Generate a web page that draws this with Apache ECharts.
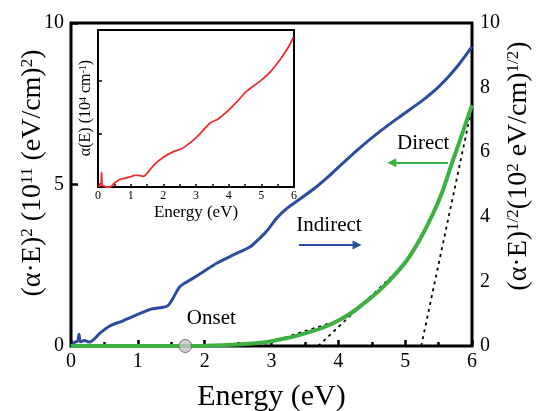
<!DOCTYPE html>
<html>
<head>
<meta charset="utf-8">
<script src="https://cdn.jsdelivr.net/npm/echarts@6/dist/echarts.min.js"></script>
<style>
  html, body { margin: 0; padding: 0; background: #fff; }
  #chart { width: 536px; height: 411px; }
</style>
</head>
<body>
<div id="chart"></div>
<script>
// Absorption analysis: (α·E)^2 and (α·E)^1/2 versus photon energy, inset α(E)

// (α·E)^2 in 10^11 (eV/cm)^2 — left axis
const alphaESquared = [
  [0, 0], [0.06, 0.12], [0.1, 0.15], [0.12, 0.36], [0.14, 0.13], [0.2, 0.17],
  [0.28, 0.12], [0.35, 0.22], [0.43, 0.39], [0.58, 0.62], [0.78, 0.78],
  [0.98, 0.96], [1.18, 1.13], [1.38, 1.2], [1.45, 1.25], [1.51, 1.42],
  [1.63, 1.84], [1.78, 2.04], [1.98, 2.3], [2.18, 2.56], [2.43, 2.82],
  [2.68, 3.07], [2.83, 3.35], [2.93, 3.56], [3.08, 3.96], [3.23, 4.26],
  [3.43, 4.56], [3.63, 4.86], [3.88, 5.3], [4.22, 5.95], [4.57, 6.56],
  [4.92, 7.1], [5.27, 7.62], [5.52, 8.06], [5.77, 8.63], [6.0, 9.27]
];

// (α·E)^1/2 in (10^2 eV/cm)^1/2 — right axis
const alphaESqrt = [
  [0, 0], [0.5, 0], [1.0, 0], [1.5, 0], [1.7, 0], [2.0, 0.01], [2.3, 0.03],
  [2.6, 0.06], [2.83, 0.1], [3.0, 0.15], [3.2, 0.23], [3.4, 0.33], [3.6, 0.45],
  [3.83, 0.62], [4.03, 0.82], [4.22, 1.06], [4.42, 1.38], [4.62, 1.73],
  [4.82, 2.15], [5.02, 2.64], [5.22, 3.3], [5.42, 4.11], [5.56, 4.8],
  [5.7, 5.66], [5.85, 6.55], [6.0, 7.46]
];

// Linear fits (dotted) on the (α·E)^1/2 scale
const fitLow = [[2.8, 0], [3.9, 0.72]];
const fitIndirect = [[3.7, 0], [4.85, 2.25]];
const fitDirect = [[5.24, 0], [6.0, 7.4]];

// Onset point
const onset = [[1.71, 0]];

// Inset: α(E) in 10^4 cm^-1
const alphaInset = [
  [0.02, 0.0], [0.06, 0.06], [0.09, 0.04], [0.11, 0.27], [0.13, 0.03],
  [0.18, 0.02], [0.25, 0.0], [0.37, 0.0], [0.5, 0.07], [0.67, 0.14],
  [0.85, 0.17], [0.98, 0.19], [1.13, 0.22], [1.25, 0.22], [1.39, 0.2],
  [1.49, 0.25], [1.6, 0.33], [1.74, 0.43], [2.0, 0.56], [2.3, 0.66],
  [2.56, 0.72], [2.82, 0.83], [3.12, 1.0], [3.43, 1.2], [3.68, 1.28],
  [3.94, 1.41], [4.25, 1.6], [4.55, 1.8], [4.96, 1.99], [5.27, 2.16],
  [5.57, 2.39], [5.83, 2.63], [5.98, 2.81]
];

// Axis ranges
const energyRange = [0, 6];
const leftRange = [0, 10];
const rightRange = [0, 10];
const insetRange = [0, 2.95];

// Arrow annotations [start, end] in (E, (α·E)^1/2)
const indirectArrow = [[3.41, 3.13], [4.28, 3.13]];
const directArrow = [[5.64, 5.67], [4.80, 5.67]];

const SERIF = "Liberation Serif, Times New Roman, DejaVu Serif, serif";
const BLUE = '#2a4d9e';
const GREEN = '#3cb043';
const RED = '#ee2b2f';

const chart = echarts.init(document.getElementById('chart'));

const option = {
  backgroundColor: '#fff',
  animation: false,
  grid: [
    { left: 71, top: 23, width: 401, height: 323, show: true,
      borderColor: '#000', borderWidth: 3, backgroundColor: 'transparent' },
    { left: 98, top: 30, width: 196, height: 157, show: true,
      borderColor: '#000', borderWidth: 2, backgroundColor: '#fff' }
  ],
  xAxis: [
    { type: 'value', gridIndex: 0, min: energyRange[0], max: energyRange[1], interval: 1,
      axisLine: { show: false },
      axisTick: { show: true, inside: true, length: 6, lineStyle: { color: '#000', width: 2.5 } },
      minorTick: { show: true, splitNumber: 2, length: 4, lineStyle: { color: '#000', width: 2.5 } },
      splitLine: { show: false },
      axisLabel: { color: '#000', fontFamily: SERIF, fontSize: 20, margin: 6 } },
    { type: 'value', gridIndex: 1, min: energyRange[0], max: energyRange[1], interval: 1,
      axisLine: { show: false },
      axisTick: { show: true, inside: true, length: 3, lineStyle: { color: '#000', width: 1.5 } },
      minorTick: { show: true, splitNumber: 2, length: 3, lineStyle: { color: '#000', width: 1.5 } },
      splitLine: { show: false },
      axisLabel: { color: '#000', fontFamily: SERIF, fontSize: 12, margin: 3 } }
  ],
  yAxis: [
    { type: 'value', gridIndex: 0, min: leftRange[0], max: leftRange[1], interval: 5,
      axisLine: { show: false },
      axisTick: { show: true, inside: true, length: 7, lineStyle: { color: '#000', width: 2.5 } },
      splitLine: { show: false },
      axisLabel: { color: '#000', fontFamily: SERIF, fontSize: 20, margin: 7 } },
    { type: 'value', gridIndex: 0, position: 'right', min: rightRange[0], max: rightRange[1], interval: 2,
      axisLine: { show: false },
      axisTick: { show: false },
      splitLine: { show: false },
      axisLabel: { color: '#000', fontFamily: SERIF, fontSize: 20, margin: 8 } },
    { type: 'value', gridIndex: 1, min: insetRange[0], max: insetRange[1], interval: 1,
      axisLine: { show: false },
      axisTick: { show: true, inside: true, length: 4, lineStyle: { color: '#000', width: 1.5 } },
      splitLine: { show: false },
      axisLabel: { show: false } }
  ],
  series: [
    { name: 'alphaE2', type: 'line', xAxisIndex: 0, yAxisIndex: 0, data: alphaESquared,
      showSymbol: false, smooth: 0.25, lineStyle: { color: BLUE, width: 3 }, z: 3 },
    { name: 'fitLow', type: 'line', xAxisIndex: 0, yAxisIndex: 1, data: fitLow,
      showSymbol: false, lineStyle: { color: '#000', width: 1.8, type: [3, 4] }, z: 2 },
    { name: 'fitIndirect', type: 'line', xAxisIndex: 0, yAxisIndex: 1, data: fitIndirect,
      showSymbol: false, lineStyle: { color: '#000', width: 1.8, type: [3, 4] }, z: 2 },
    { name: 'fitDirect', type: 'line', xAxisIndex: 0, yAxisIndex: 1, data: fitDirect,
      showSymbol: false, lineStyle: { color: '#000', width: 1.8, type: [3, 4] }, z: 2 },
    { name: 'alphaESqrt', type: 'line', xAxisIndex: 0, yAxisIndex: 1, data: alphaESqrt,
      showSymbol: false, smooth: 0.3, lineStyle: { color: GREEN, width: 4 }, z: 3,
      markLine: {
        silent: true, symbol: ['none', 'triangle'], symbolSize: 9,
        label: { show: false },
        data: [
          [ { coord: indirectArrow[0], lineStyle: { color: BLUE, width: 2, type: 'solid' }, itemStyle: { color: BLUE } },
            { coord: indirectArrow[1] } ],
          [ { coord: directArrow[0], lineStyle: { color: GREEN, width: 2, type: 'solid' }, itemStyle: { color: GREEN } },
            { coord: directArrow[1] } ]
        ]
      } },
    { name: 'onset', type: 'scatter', xAxisIndex: 0, yAxisIndex: 1, data: onset,
      symbol: 'circle', symbolSize: 13,
      itemStyle: { color: '#c4c4c4', borderColor: '#555', borderWidth: 1 }, z: 5 },
    { name: 'alpha', type: 'line', xAxisIndex: 1, yAxisIndex: 2, data: alphaInset,
      showSymbol: false, smooth: 0.3, lineStyle: { color: RED, width: 1.8 }, z: 3 }
  ]
};

chart.setOption(option);

// Text annotations placed at data coordinates of the main plot
function at(p) {
  return chart.convertToPixel({ xAxisIndex: 0, yAxisIndex: 1 }, p);
}
const onsetPos = at([2.1, 0.84]);
const indirectPos = at([3.86, 3.72]);
const directPos = at([5.27, 6.28]);

const mainRich = {
  m: { fontFamily: SERIF, fontSize: 28, color: '#000', verticalAlign: 'middle' },
  s: { fontFamily: SERIF, fontSize: 17, color: '#000', verticalAlign: 'top' }
};
const insetRich = {
  m: { fontFamily: SERIF, fontSize: 16, color: '#000', verticalAlign: 'middle' },
  s: { fontFamily: SERIF, fontSize: 10, color: '#000', verticalAlign: 'top' }
};

function label(x, y, text, size) {
  return { type: 'text', x: x, y: y, z: 10,
    style: { text: text, fontFamily: SERIF, fontSize: size, fill: '#000',
             align: 'center', verticalAlign: 'middle' } };
}

chart.setOption({
  graphic: [
    label(onsetPos[0], onsetPos[1], 'Onset', 21),
    label(indirectPos[0], indirectPos[1], 'Indirect', 21),
    label(directPos[0], directPos[1], 'Direct', 21),
    label(271.5, 397, 'Energy (eV)', 30),
    label(196, 213, 'Energy (eV)', 17),
    { type: 'text', x: 33, y: 173, rotation: Math.PI / 2, z: 10,
      style: { text: '{m|(α·E)}{s|2}{m| (10}{s|11}{m| (eV/cm)}{s|2}{m|)}', rich: mainRich,
               align: 'center', verticalAlign: 'middle' } },
    { type: 'text', x: 519, y: 166, rotation: Math.PI / 2, z: 10,
      style: { text: '{m|(α·E)}{s|1/2}{m|(10}{s|2}{m| eV/cm)}{s|1/2}{m|)}', rich: mainRich,
               align: 'center', verticalAlign: 'middle' } },
    { type: 'text', x: 86, y: 108, rotation: Math.PI / 2, z: 10,
      style: { text: '{m|α(E) (10}{s|4}{m| cm}{s|-1}{m|)}', rich: insetRich,
               align: 'center', verticalAlign: 'middle' } }
  ]
});
</script>
</body>
</html>
